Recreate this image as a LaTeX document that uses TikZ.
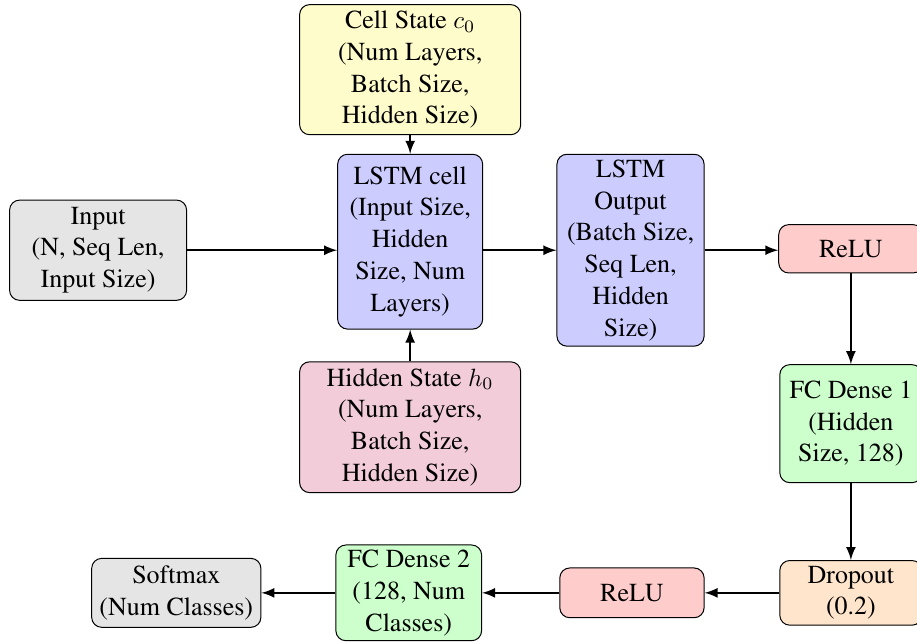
\documentclass[tikz,border=0pt]{standalone}
\usepackage[T1]{fontenc}
\usepackage{times}
\usepackage{tikz}
\usepackage{amsmath}
\usepackage{xcolor}
\usetikzlibrary{shapes.geometric, arrows, positioning}

\tikzset{
    block/.style={draw, rectangle, rounded corners, align=center, inner sep=2pt,
        font=\fontsize{10.4pt}{12.7pt}\selectfont},
    flow/.style={->, >=latex, thick}
}

\begin{document}
\begin{tikzpicture}
    \useasboundingbox (0,0) rectangle (12.9,-9.04);

    % LSTM part
    \node[block, fill=yellow!20, minimum width=3.11cm, minimum height=1.83cm] (cell) at (5.77,-0.98) {Cell State $c_0$\\(Num Layers,\\Batch Size,\\Hidden Size)};
    \node[block, fill=blue!20, minimum width=2.04cm, minimum height=2.46cm] (lstm) at (5.77,-3.40) {LSTM cell\\(Input Size,\\Hidden\\Size, Num\\Layers)};
    \node[block, fill=purple!20, minimum width=3.11cm, minimum height=1.84cm] (hidden) at (5.77,-6.01) {Hidden State $h_0$\\(Num Layers,\\Batch Size,\\Hidden Size)};
    \node[block, fill=gray!20, minimum width=2.49cm, minimum height=1.41cm] (input) at (1.38,-3.52) {Input\\(N, Seq Len,\\Input Size)};
    \node[block, fill=blue!20, minimum width=2.07cm, minimum height=2.70cm] (out) at (8.87,-3.52) {LSTM\\Output\\(Batch Size,\\Seq Len,\\Hidden\\Size)};

    % Dense part
    \node[block, fill=red!20, minimum width=2.03cm, minimum height=0.68cm] (relua) at (11.97,-3.50) {ReLU};
    \node[block, fill=green!20, minimum width=2.0cm, minimum height=1.66cm] (fca) at (11.97,-5.96) {FC Dense 1\\(Hidden\\Size, 128)};
    \node[block, fill=orange!20, minimum width=2.0cm, minimum height=0.91cm] (drop) at (11.97,-8.34) {Dropout\\(0.2)};
    \node[block, fill=red!20, minimum width=2.03cm, minimum height=0.70cm] (relub) at (8.89,-8.34) {ReLU};
    \node[block, fill=green!20, minimum width=2.05cm, minimum height=1.34cm] (fcb) at (5.75,-8.34) {FC Dense 2\\(128, Num\\Classes)};
    \node[block, fill=gray!20, minimum width=2.38cm, minimum height=0.97cm] (soft) at (2.48,-8.34) {Softmax\\(Num Classes)};

    % Arrows
    \draw[flow] (input.east) -- (input.east -| lstm.west);
    \draw[flow] (cell) -- (lstm);
    \draw[flow] (hidden) -- (lstm);
    \draw[flow] (lstm.east |- out.west) -- (out.west);
    \draw[flow] (out.east) -- (out.east -| relua.west);
    \draw[flow] (relua) -- (fca);
    \draw[flow] (fca) -- (drop);
    \draw[flow] (drop) -- (relub);
    \draw[flow] (relub) -- (fcb);
    \draw[flow] (fcb) -- (soft);
\end{tikzpicture}
\end{document}
